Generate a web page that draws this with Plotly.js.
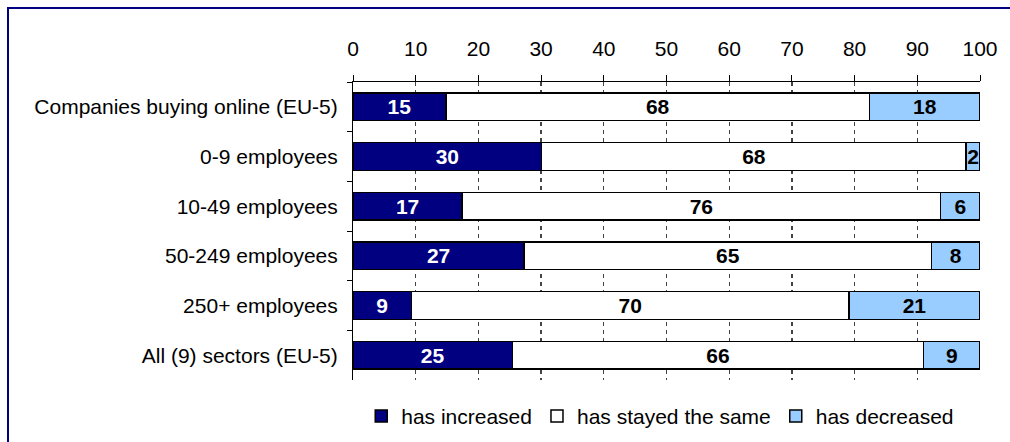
<!DOCTYPE html>
<html>
<head>
<meta charset="utf-8">
<script src="https://cdn.plot.ly/plotly-3.0.1.min.js"></script>
<style>
  html, body { margin: 0; padding: 0; overflow: hidden; background: #fff; }
  #chart { width: 1010px; height: 442px; position: absolute; left: 0; top: 0; }
  #frame { position: absolute; left: 7px; top: 7px; width: 1100px; height: 500px;
           border: 2px solid #000080; pointer-events: none; }
</style>
</head>
<body>
<div id="chart"></div>
<div id="frame"></div>
<script>
const categories = [
  "Companies buying online (EU-5)",
  "0-9 employees",
  "10-49 employees",
  "50-249 employees",
  "250+ employees",
  "All (9) sectors (EU-5)"
];
const hasIncreased   = [14.8, 30.1, 17.4, 27.3, 9.3, 25.4];
const hasStayedSame  = [67.6, 67.7, 76.3, 65.0, 69.8, 65.6];
const hasDecreased   = [17.6, 2.2, 6.3, 7.7, 20.9, 9.0];
const xTicks = [0, 10, 20, 30, 40, 50, 60, 70, 80, 90, 100];

const FONT = "Liberation Sans, Arial, sans-serif";
const FS = 21;
const lineStyle = { color: "#000000", width: 1.5 };

function mk(name, values, color, textColor) {
  return {
    type: "bar",
    orientation: "h",
    name: name,
    y: categories,
    x: values,
    marker: { color: color, line: lineStyle },
    texttemplate: "%{x:.0f}",
    textposition: "inside",
    insidetextanchor: "middle",
    constraintext: "none",
    textangle: 0,
    textfont: { family: FONT, size: FS, color: textColor, weight: "bold" },
    hoverinfo: "skip"
  };
}

const data = [
  mk("has increased", hasIncreased, "#000080", "#ffffff"),
  mk("has stayed the same", hasStayedSame, "#ffffff", "#000000"),
  mk("has decreased", hasDecreased, "#99ccff", "#000000")
];

const layout = {
  width: 1010,
  height: 442,
  margin: { l: 353, r: 30, t: 82, b: 62, pad: 0, autoexpand: false },
  paper_bgcolor: "#ffffff",
  plot_bgcolor: "#ffffff",
  barmode: "stack",
  bargap: 0.44,
  showlegend: true,
  font: { family: FONT, size: FS, color: "#000000" },
  xaxis: {
    side: "top",
    range: [0, 100],
    tickmode: "array",
    tickvals: xTicks,
    ticktext: xTicks.map(String),
    ticks: "outside",
    ticklen: 6,
    tickcolor: "#000000",
    tickwidth: 1,
    ticklabelstandoff: 11,
    showline: true,
    linecolor: "#000000",
    linewidth: 1,
    showgrid: true,
    gridcolor: "#444444",
    gridwidth: 1.2,
    griddash: "4px,4px",
    zeroline: false,
    fixedrange: true,
    tickfont: { family: FONT, size: FS, color: "#000000" }
  },
  yaxis: {
    autorange: "reversed",
    type: "category",
    tickson: "boundaries",
    ticks: "outside",
    ticklen: 5,
    tickcolor: "#000000",
    tickwidth: 1,
    ticklabelstandoff: 10,
    showline: true,
    linecolor: "#000000",
    linewidth: 1,
    showgrid: false,
    zeroline: false,
    fixedrange: true,
    tickfont: { family: FONT, size: FS, color: "#000000" }
  },
  legend: {
    orientation: "h",
    x: 0.49,
    xanchor: "center",
    yref: "container",
    y: 0.058,
    yanchor: "middle",
    font: { family: FONT, size: FS, color: "#000000" },
    itemwidth: 30,
    traceorder: "normal",
    bgcolor: "rgba(0,0,0,0)"
  }
};

Plotly.newPlot("chart", data, layout, { displayModeBar: false, staticPlot: true });
</script>
</body>
</html>
